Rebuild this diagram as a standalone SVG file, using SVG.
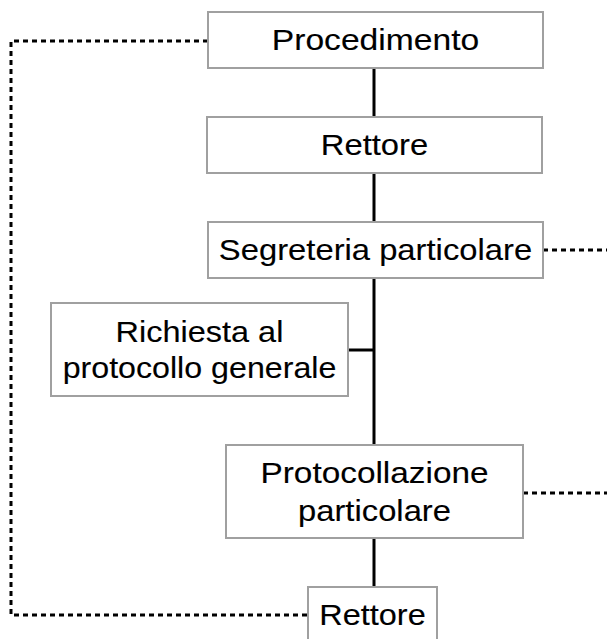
<svg xmlns="http://www.w3.org/2000/svg" width="607" height="639" viewBox="0 0 607 639">
<style>
.box{fill:#fff;stroke:#a0a0a0;stroke-width:2}
.t{font-family:"Liberation Sans",Arial,sans-serif;font-size:29px;fill:#000;text-anchor:middle;stroke:#000;stroke-width:0.12}
.ln{stroke:#000;stroke-width:3;fill:none}
.dash{stroke:#000;stroke-width:3;fill:none;stroke-dasharray:5 4}
</style>
<rect width="607" height="639" fill="#fff"/>
<g id="connectors">
<path class="ln" d="M374 68V117M374 173V222M374 278V445M374 538V587M348 350H374"/>
<path class="dash" d="M208 41H11V615H308"/>
<path class="dash" d="M543 250H607"/>
<path class="dash" d="M523 493H607"/>
</g>
<g id="n1"><rect class="box" x="208" y="12" width="335" height="56"/><text class="t" transform="translate(375.5 50) scale(1.16 1)">Procedimento</text></g>
<g id="n2"><rect class="box" x="207" y="117" width="335" height="56"/><text class="t" transform="translate(374.5 155) scale(1.13 1)">Rettore</text></g>
<g id="n3"><rect class="box" x="208" y="222" width="335" height="56"/><text class="t" transform="translate(375.5 260) scale(1.13 1)">Segreteria particolare</text></g>
<g id="n4"><rect class="box" x="51" y="303" width="297" height="93"/><text class="t" transform="translate(199.5 342) scale(1.12 1)">Richiesta al</text><text class="t" transform="translate(199.5 378) scale(1.11 1)">protocollo generale</text></g>
<g id="n5"><rect class="box" x="226" y="445" width="297" height="93"/><text class="t" transform="translate(374.5 483) scale(1.15 1)">Protocollazione</text><text class="t" transform="translate(374.5 521) scale(1.13 1)">particolare</text></g>
<g id="n6"><rect class="box" x="308" y="587" width="129" height="60"/><text class="t" transform="translate(372.5 625) scale(1.12 1)">Rettore</text></g>
</svg>
